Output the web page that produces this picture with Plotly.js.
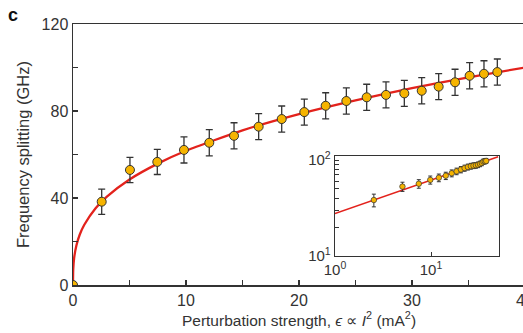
<!DOCTYPE html>
<html>
<head>
<meta charset="utf-8">
<script src="https://cdn.plot.ly/plotly-3.0.1.min.js"></script>
<style>
html, body { margin: 0; padding: 0; overflow: hidden; background: #fff; }
#chart { width: 525px; height: 333px; }
</style>
</head>
<body>
<div id="chart"></div>
<script>
// Measured points (perturbation strength in mA^2, splitting in GHz)
const strength = [0, 2.54, 5.04, 7.46, 9.82, 12.06, 14.25, 16.43, 18.47, 20.47, 22.36, 24.19, 25.99, 27.70, 29.32, 30.86, 32.36, 33.81, 35.1, 36.37, 37.55];
const splitting = [0, 38.3, 52.9, 56.6, 62.1, 65.4, 68.6, 72.8, 76.3, 79.5, 82.4, 84.6, 86.3, 87.4, 88.1, 89.3, 91.2, 93.2, 96.2, 97.1, 97.9];
const splitErr = [0, 5.8, 5.8, 5.8, 6, 6, 6, 6, 6, 6, 6, 6, 6, 6, 6, 6, 6, 6, 6, 6, 6];

// Red fit curve
const fitX = [0, 0.02, 0.1, 0.3, 0.6, 1, 2, 3, 5, 7.5, 10, 15, 20, 25, 30, 35, 40];
const fitY = [0, 7.1, 12.4, 18.2, 23.2, 27.7, 35.3, 40.6, 48.5, 55.8, 61.7, 71.1, 78.6, 84.9, 90.5, 95.5, 100.0];

// Inset fit line (log-log)
const insetFitX = [1, 50];
const insetFitY = [27.7, 108.1];

// Tick labels
const xTickVals = [0, 5, 10, 15, 20, 25, 30, 35, 40];
const xTickText = ['0', '', '10', '', '20', '', '30', '', '40'];
const yTickVals = [0, 20, 40, 60, 80, 100, 120];
const yTickText = ['0', '', '40', '', '80', '', '120'];
const insetXTickVals = [1, 10];
const insetXTickText = ['10<sup>0</sup>', '10<sup>1</sup>'];
const insetYTickVals = [10, 100];
const insetYTickText = ['10<sup>1</sup>', '10<sup>2</sup>'];
const insetYMinor = [20, 30, 40, 50, 60, 70, 80, 90];

const FONT = 'Liberation Sans, Arial, Helvetica, sans-serif';
const DARK = '#333333';
const RED = '#e3221c';
const GOLD = '#f6b400';

const traces = [
  {
    x: fitX, y: fitY, type: 'scatter', mode: 'lines',
    line: { color: RED, width: 2.3, shape: 'spline', smoothing: 0.6 },
    xaxis: 'x', yaxis: 'y', hoverinfo: 'skip'
  },
  {
    x: strength, y: splitting, type: 'scatter', mode: 'markers',
    marker: { color: GOLD, size: 9, line: { color: DARK, width: 1 } },
    error_y: { type: 'data', array: splitErr, visible: true, color: DARK, thickness: 1.3, width: 3.5 },
    xaxis: 'x', yaxis: 'y'
  },
  {
    x: insetFitX, y: insetFitY, type: 'scatter', mode: 'lines',
    line: { color: RED, width: 1.6 },
    xaxis: 'x2', yaxis: 'y2', hoverinfo: 'skip'
  },
  {
    x: strength.slice(1), y: splitting.slice(1), type: 'scatter', mode: 'markers',
    marker: { color: GOLD, size: 5.5, line: { color: DARK, width: 0.7 } },
    error_y: { type: 'data', array: splitErr.slice(1), visible: true, color: DARK, thickness: 1, width: 2 },
    xaxis: 'x2', yaxis: 'y2'
  }
];

const layout = {
  width: 525, height: 333,
  margin: { l: 73, r: 0, t: 24, b: 48 },
  paper_bgcolor: '#ffffff', plot_bgcolor: 'rgba(0,0,0,0)',
  showlegend: false,
  font: { family: FONT, color: DARK, size: 16 },
  xaxis: {
    range: [0, 40], domain: [0, 1],
    showline: true, linecolor: DARK, linewidth: 1.5, mirror: true,
    ticks: 'inside', ticklen: 5, tickwidth: 1.3, tickcolor: DARK,
    tickmode: 'array', tickvals: xTickVals, ticktext: xTickText,
    ticklabeloverflow: 'allow',
    tickfont: { size: 16, family: FONT, color: DARK },
    showgrid: false, zeroline: false,
    title: { text: 'Perturbation strength, <i>ϵ</i> ∝ <i>I</i><sup>2</sup> (mA<sup>2</sup>)', font: { size: 15.5, family: FONT, color: DARK }, standoff: 7 }
  },
  yaxis: {
    range: [0, 120], domain: [0, 1],
    showline: true, linecolor: DARK, linewidth: 1.5, mirror: true,
    ticks: 'inside', ticklen: 5, tickwidth: 1.3, tickcolor: DARK,
    tickmode: 'array', tickvals: yTickVals, ticktext: yTickText,
    tickfont: { size: 16, family: FONT, color: DARK },
    showgrid: false, zeroline: false,
    title: { text: 'Frequency splitting (GHz)', font: { size: 16.5, family: FONT, color: DARK }, standoff: 8 }
  },
  xaxis2: {
    type: 'log', range: [0, 1.708], domain: [0.5796, 0.9425], anchor: 'y2',
    showline: true, linecolor: DARK, linewidth: 1.3, mirror: true,
    ticks: 'inside', ticklen: 4, tickwidth: 1, tickcolor: DARK,
    tickmode: 'array', tickvals: insetXTickVals, ticktext: insetXTickText,
    tickfont: { size: 15, family: FONT, color: DARK },
    showgrid: false, zeroline: false
  },
  yaxis2: {
    type: 'log', range: [1, 2.042], domain: [0.1111, 0.4943], anchor: 'x2',
    showline: true, linecolor: DARK, linewidth: 1.3, mirror: true,
    ticks: 'inside', ticklen: 4, tickwidth: 1, tickcolor: DARK,
    tickmode: 'array', tickvals: insetYTickVals, ticktext: insetYTickText,
    tickfont: { size: 15, family: FONT, color: DARK },
    minor: { tickmode: 'array', tickvals: insetYMinor, ticks: 'inside', ticklen: 4, tickcolor: DARK, tickwidth: 1 },
    showgrid: false, zeroline: false
  },
  annotations: [
    { text: '<b>c</b>', xref: 'paper', yref: 'paper', x: -0.133, y: 1.035, xanchor: 'center', yanchor: 'middle', showarrow: false, font: { size: 18, family: FONT, color: '#111' } }
  ]
};

Plotly.newPlot('chart', traces, layout, { displayModeBar: false, staticPlot: true });
</script>
</body>
</html>
